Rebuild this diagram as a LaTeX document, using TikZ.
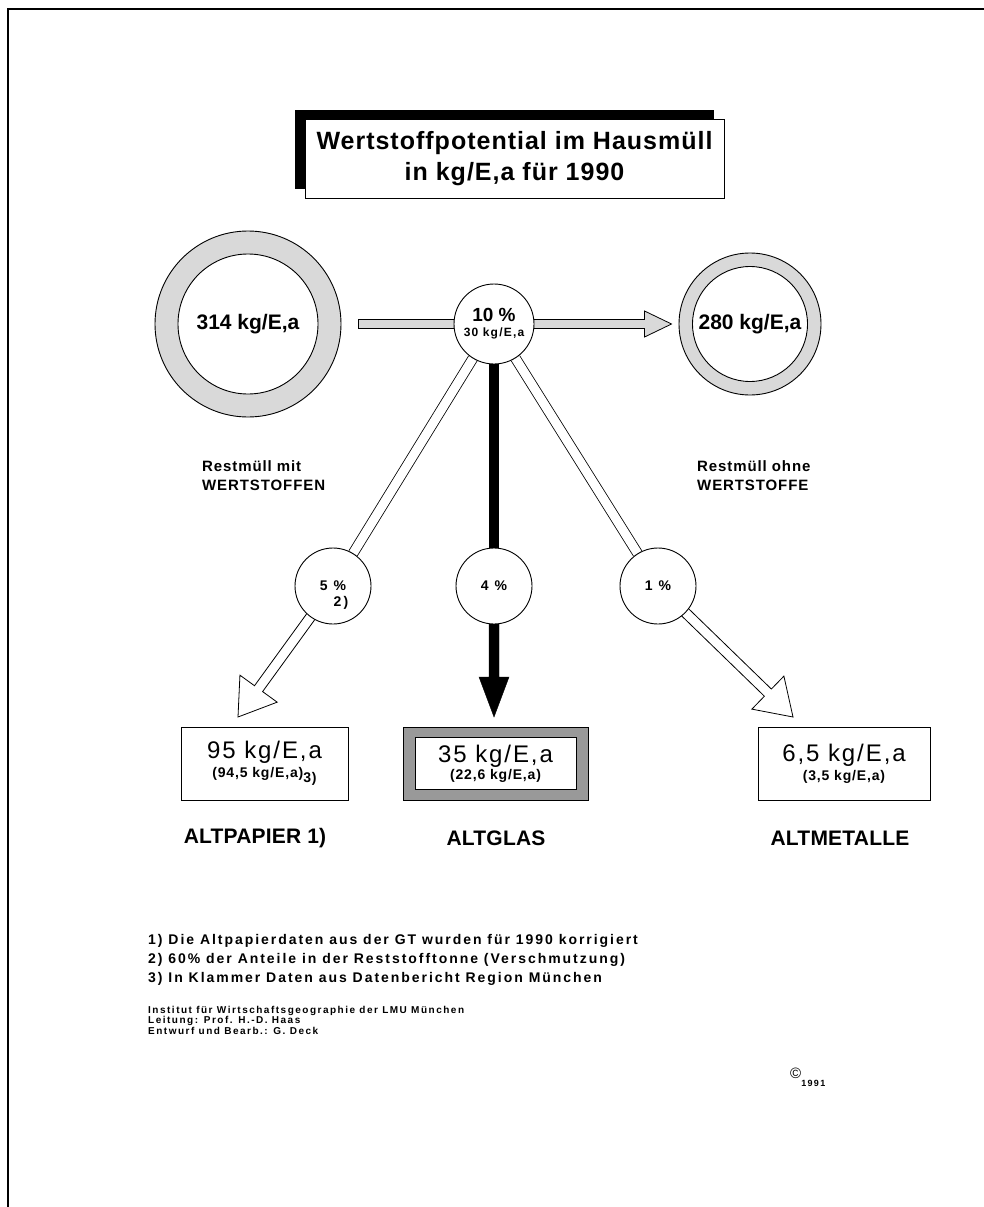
\documentclass[tikz,border=0pt]{standalone}
\usepackage{fontspec}
\setmainfont{Liberation Sans}
\usetikzlibrary{calc,backgrounds,shadows}

\newcommand\valfont{\fontsize{24}{26}\selectfont\addfontfeatures{LetterSpace=8}}
\newcommand\subfont{\fontsize{14}{16}\selectfont\bfseries\addfontfeatures{LetterSpace=6}}

% broad arrow from #2 to #3: half shaft #4, half head #5, head length #6
\newcommand\fatarrow[6][]{%
  \draw[#1] let \p1=(#2), \p2=(#3),
    \n1={atan2(\y2-\y1,\x2-\x1)}, \n2={veclen(\x2-\x1,\y2-\y1)} in
    ($(\p1)+({\n1+90}:#4pt)$)
    -- ($(\p1)+(\n1:{\n2-#6pt})+({\n1+90}:#4pt)$)
    -- ($(\p1)+(\n1:{\n2-#6pt})+({\n1+90}:#5pt)$)
    -- (\p2)
    -- ($(\p1)+(\n1:{\n2-#6pt})+({\n1-90}:#5pt)$)
    -- ($(\p1)+(\n1:{\n2-#6pt})+({\n1-90}:#4pt)$)
    -- ($(\p1)+({\n1-90}:#4pt)$) -- cycle;}

\tikzset{
  titlebox/.style={draw, line width=0.9pt, fill=white, minimum width=419pt, minimum height=79pt,
    align=center, font=\fontsize{25}{31}\selectfont\bfseries\addfontfeatures{LetterSpace=4},
    drop shadow={shadow xshift=-10pt, shadow yshift=9pt, opacity=1, fill=black}},
  ring/.style={circle, draw, line width=0.9pt, fill=gray!30, minimum size=#1, inner sep=0},
  core/.style={circle, draw, line width=0.9pt, fill=white, minimum size=#1, inner sep=0,
    font=\fontsize{21}{23}\selectfont\bfseries},
  share/.style={circle, draw, line width=0.9pt, fill=white, minimum size=76pt, inner sep=0,
    font=\fontsize{14}{16}\selectfont\bfseries\addfontfeatures{LetterSpace=15}},
  amount/.style={draw, line width=0.9pt, fill=white, minimum width=#1, minimum height=73pt,
    inner sep=0, align=center},
  kind/.style={font=\fontsize{21}{24}\selectfont\bfseries\addfontfeatures{LetterSpace=1}},
  stocklabel/.style={anchor=north west, inner sep=0, align=left,
    font=\fontsize{15}{19}\selectfont\bfseries\addfontfeatures{LetterSpace=6}},
  note/.style={anchor=north west, inner sep=0, align=left,
    font=\fontsize{14}{19}\selectfont\bfseries\addfontfeatures{LetterSpace=14}},
  imprint/.style={anchor=north west, inner sep=0, align=left,
    font=\fontsize{10}{10.5}\selectfont\bfseries\addfontfeatures{LetterSpace=15}},
  feedarrow/.style={draw=black, line width=0.8pt, fill=gray!30},
  hollow/.style={draw=black, line width=0.8pt, fill=white},
  solidarrow/.style={draw=black, fill=black},
  hollowband/.style={double=white, double distance=9pt, line width=0.8pt},
  solidband/.style={line width=10pt}
}

\begin{document}
\begin{tikzpicture}[x=1pt,y=1pt]
\useasboundingbox (0,0) rectangle (984,-1207);
\draw[line width=2pt] (984,-9) -- (8,-9) -- (8,-1207);

% title
\node[titlebox] (title) at (514.5,-158.5) {Wertstoffpotential im Hausmüll\\in kg/E,a für 1990};

% Restmuell vorher / nachher
\node[ring=186pt] (withRing) at (248,-324) {};
\node[core=140pt] (withCore) at (withRing) {314 kg/E,a};
\node[ring=142pt] (withoutRing) at (750,-324) {};
\node[core=115pt] (withoutCore) at (withoutRing) {280 kg/E,a};
\node[stocklabel] (withLabel) at (202,-460) {Restmüll mit\\WERTSTOFFEN};
\node[stocklabel] (withoutLabel) at (697,-460) {Restmüll ohne\\WERTSTOFFE};

% Anteile
\node[circle, draw, line width=0.9pt, fill=white, minimum size=80pt, inner sep=0, align=center] (split) at (494,-324)
  {{\fontsize{19}{20}\selectfont\bfseries 10 \%}\\[3pt]{\fontsize{12}{13}\selectfont\bfseries\addfontfeatures{LetterSpace=10}30 kg/E,a}};
\node[share] (paperShare) at (333,-586) {5 \%};
\node[share, draw=none, fill=none, minimum size=0pt] (paperNote) at (341,-603) {2)};
\node[share] (glassShare) at (494,-586) {4 \%};
\node[share] (metalShare) at (658,-586) {1 \%};

% Mengen
\coordinate (paperTip) at (238,-717);
\coordinate (glassTip) at (494,-717);
\coordinate (metalTip) at (793,-717);
\node[amount=167pt] (paper) at (264.5,-763.5)
  {{\valfont 95 kg/E,a}\\[3pt]{\subfont (94,5 kg/E,a)\raisebox{-5pt}{3)}}};
\node[draw, line width=0.9pt, fill=black!40, minimum width=185pt, minimum height=73pt] (glassFrame) at (495.5,-763.5) {};
\node[amount=161pt, minimum height=52pt] (glass) at (glassFrame)
  {{\valfont 35 kg/E,a}\\[1pt]{\subfont (22,6 kg/E,a)}};
\node[amount=172pt] (metal) at (844,-763.5)
  {{\valfont 6,5 kg/E,a}\\[3pt]{\subfont (3,5 kg/E,a)}};
\node[kind] (paperKind) at (255,-838) {ALTPAPIER 1)};
\node[kind] (glassKind) at (496,-838) {ALTGLAS};
\node[kind] (metalKind) at (840,-838) {ALTMETALLE};

% Fussnoten
\node[note] (notes) at (148,-934) {1) Die Altpapierdaten aus der GT wurden für 1990 korrigiert\\2) 60\% der Anteile in der Reststofftonne (Verschmutzung)\\3) In Klammer Daten aus Datenbericht Region München};
\node[imprint] (source) at (148,-1006) {Institut für Wirtschaftsgeographie der LMU München\\Leitung: Prof. H.-D. Haas\\Entwurf und Bearb.: G. Deck};
\node[anchor=west, inner sep=0] (copyright) at (790,-1077)
  {\fontsize{15}{15}\selectfont ©\raisebox{-8pt}{\fontsize{9}{9}\selectfont\bfseries\addfontfeatures{LetterSpace=15}1991}};

% Pfeile
\coordinate (feedStart) at ($(withRing.east)+(17,0)$);
\coordinate (feedEnd) at ($(withoutRing.west)+(-7,0)$);
\begin{scope}[on background layer]
\fatarrow[feedarrow]{feedStart}{feedEnd}{4.5}{13}{27}
\draw[hollowband] (split) -- (paperShare);
\fatarrow[hollow]{paperShare}{paperTip}{5}{23}{35}
\draw[solidband] (split) -- (glassShare);
\fatarrow[solidarrow]{glassShare}{glassTip}{5}{15}{40}
\draw[hollowband] (split) -- (metalShare);
\fatarrow[hollow]{metalShare}{metalTip}{5}{23}{35}
\end{scope}
\end{tikzpicture}
\end{document}
